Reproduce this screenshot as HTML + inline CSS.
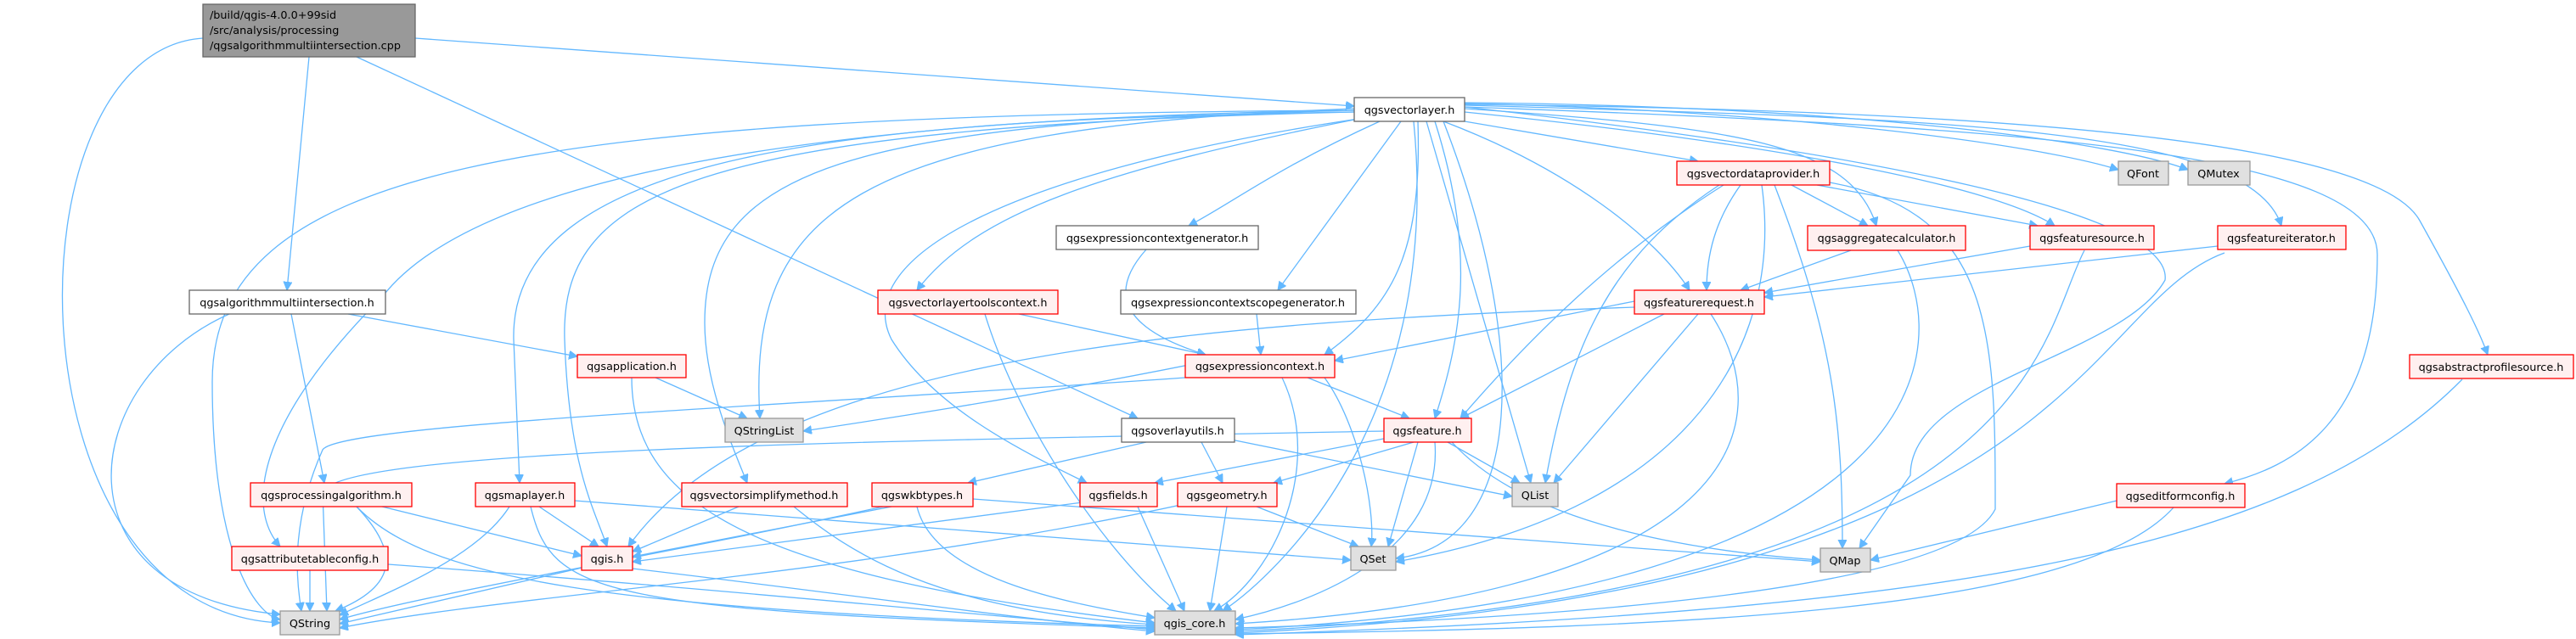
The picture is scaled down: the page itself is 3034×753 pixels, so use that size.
<!DOCTYPE html>
<html><head><meta charset="utf-8"><style>
html,body{margin:0;padding:0;background:#fff;}
svg{display:block;}
text{font-family:"DejaVu Sans","Liberation Sans",sans-serif;font-size:12.8px;fill:#000;}
.e{fill:none;stroke:#63b8ff;stroke-width:1.3;marker-end:url(#a);}
.r{fill:#fff0f0;stroke:#ff0000;stroke-width:1.3;}
.g{fill:#e0e0e0;stroke:#999;stroke-width:1.3;}
.w{fill:#fff;stroke:#666;stroke-width:1.3;}
</style></head><body>
<svg width="3034" height="753" viewBox="0 0 3034 753" xmlns="http://www.w3.org/2000/svg">
<defs><marker id="a" markerUnits="userSpaceOnUse" markerWidth="12" markerHeight="12" refX="10" refY="5" orient="auto"><path d="M0,0 L10,5 L0,10 z" fill="#63b8ff" stroke="#63b8ff"/></marker></defs>
<g>
<path class="e" d="M239,45 C5,60 5,720 330,734"/>
<path class="e" d="M364,67 L338,342"/>
<path class="e" d="M420,67 L1340,493"/>
<path class="e" d="M489,45 L1595,125"/>
<path class="e" d="M410,370 L680,420"/>
<path class="e" d="M343,370 L382,569"/>
<path class="e" d="M270,370 C90,450 60,700 330,724"/>
<path class="e" d="M772,445 L880,493"/>
<path class="e" d="M744,445 C744,600 900,680 1360,734"/>
<path class="e" d="M450,597 L685,655"/>
<path class="e" d="M420,597 C470,650 470,690 395,720"/>
<path class="e" d="M420,597 C500,680 700,720 1360,738"/>
<path class="e" d="M635,597 L705,644"/>
<path class="e" d="M600,597 C560,660 450,700 400,725"/>
<path class="e" d="M625,597 C650,700 700,720 1360,740"/>
<path class="e" d="M677,590 L1591,660"/>
<path class="e" d="M870,597 L745,650"/>
<path class="e" d="M935,597 C1000,650 1100,720 1360,736"/>
<path class="e" d="M365,672 L365,720"/>
<path class="e" d="M457,665 C800,690 1100,720 1360,742"/>
<path class="e" d="M690,668 L400,735"/>
<path class="e" d="M745,670 C1000,700 1200,730 1360,744"/>
<path class="e" d="M1595,130 C600,135 250,200 250,450 C250,650 300,725 330,730"/>
<path class="e" d="M1665,143 C1700,500 1500,680 1440,720"/>
<path class="e" d="M1595,132 C800,150 660,230 665,400 C670,550 700,600 715,644"/>
<path class="e" d="M1595,128 C1000,150 880,250 895,493"/>
<path class="e" d="M1700,143 C1800,400 1800,640 1644,658"/>
<path class="e" d="M1680,143 L1803,569"/>
<path class="e" d="M1725,126 C2200,180 2560,250 2550,330 C2500,420 2250,450 2250,560 L2190,646"/>
<path class="e" d="M1725,122 C2100,130 2400,170 2495,200"/>
<path class="e" d="M1725,121 C2200,125 2500,170 2577,200"/>
<path class="e" d="M1595,132 C1000,140 600,180 605,400 L612,569"/>
<path class="e" d="M1595,130 C900,140 550,220 450,350 C300,500 290,600 330,644"/>
<path class="e" d="M1595,130 C1000,145 830,200 830,380 C830,450 860,520 880,569"/>
<path class="e" d="M1600,140 C1300,200 1150,250 1080,342"/>
<path class="e" d="M1625,143 C1500,200 1450,240 1400,266"/>
<path class="e" d="M1650,143 L1505,342"/>
<path class="e" d="M1670,143 C1675,300 1640,360 1560,418"/>
<path class="e" d="M1690,143 C1740,300 1720,400 1690,493"/>
<path class="e" d="M1600,140 C1200,200 1000,300 1050,400 C1100,480 1200,530 1280,569"/>
<path class="e" d="M1725,143 L2000,190"/>
<path class="e" d="M1725,128 C2050,150 2180,170 2210,266"/>
<path class="e" d="M1725,132 C2100,170 2350,220 2420,266"/>
<path class="e" d="M1725,124 C2300,140 2650,150 2687,266"/>
<path class="e" d="M1700,143 C1850,200 1950,280 1990,342"/>
<path class="e" d="M1725,126 C2400,150 2800,180 2800,300 C2800,500 2700,550 2620,570"/>
<path class="e" d="M1725,123 C2400,130 2800,170 2850,260 C2900,350 2920,390 2930,418"/>
<path class="e" d="M1350,294 C1300,350 1330,390 1420,418"/>
<path class="e" d="M1480,370 L1485,418"/>
<path class="e" d="M1200,370 L1420,418"/>
<path class="e" d="M1160,370 C1200,500 1300,650 1385,720"/>
<path class="e" d="M1400,430 C1200,470 1000,500 946,508"/>
<path class="e" d="M1396,445 C900,480 400,500 380,530 C340,620 350,690 355,720"/>
<path class="e" d="M1560,445 C1600,500 1620,600 1615,644"/>
<path class="e" d="M1510,445 C1560,550 1500,680 1430,720"/>
<path class="e" d="M1540,445 L1660,493"/>
<path class="e" d="M1630,508 C1000,520 400,530 380,580 L385,720"/>
<path class="e" d="M1705,521 L1790,569"/>
<path class="e" d="M1710,521 C1800,620 2000,650 2144,660"/>
<path class="e" d="M1670,521 L1635,644"/>
<path class="e" d="M1690,521 C1700,650 1550,710 1455,730"/>
<path class="e" d="M1640,515 L1360,569"/>
<path class="e" d="M1665,521 L1500,569"/>
<path class="e" d="M1350,521 L1140,569"/>
<path class="e" d="M1415,521 L1440,569"/>
<path class="e" d="M1450,518 L1781,585"/>
<path class="e" d="M1050,597 L745,656"/>
<path class="e" d="M1040,597 C800,650 500,700 400,730"/>
<path class="e" d="M1080,597 C1100,680 1250,710 1360,728"/>
<path class="e" d="M1146,588 L2144,662"/>
<path class="e" d="M1290,590 L745,662"/>
<path class="e" d="M1340,597 L1395,720"/>
<path class="e" d="M1480,597 L1600,644"/>
<path class="e" d="M1400,593 C1000,680 600,700 400,740"/>
<path class="e" d="M1445,597 L1425,720"/>
<path class="e" d="M2030,218 C1900,300 1800,400 1720,493"/>
<path class="e" d="M2050,218 C2020,260 2010,300 2010,342"/>
<path class="e" d="M2110,218 L2200,266"/>
<path class="e" d="M2140,218 L2400,266"/>
<path class="e" d="M2025,218 C1900,300 1850,400 1820,569"/>
<path class="e" d="M2075,218 C2100,400 2000,600 1644,662"/>
<path class="e" d="M2090,218 C2160,400 2170,500 2170,646"/>
<path class="e" d="M2155,215 C2350,250 2350,400 2350,600 C2300,700 1800,730 1455,740"/>
<path class="e" d="M2180,295 L2050,342"/>
<path class="e" d="M2235,295 C2300,400 2300,700 1455,742"/>
<path class="e" d="M2391,290 L2078,345"/>
<path class="e" d="M2455,295 C2400,400 2400,700 1455,744"/>
<path class="e" d="M2612,290 L2078,350"/>
<path class="e" d="M2620,298 C2450,360 2450,700 1455,746"/>
<path class="e" d="M1925,355 L1572,425"/>
<path class="e" d="M1960,370 L1720,493"/>
<path class="e" d="M2000,370 L1830,569"/>
<path class="e" d="M1925,362 C1400,380 900,420 740,644"/>
<path class="e" d="M2015,370 C2100,500 2050,700 1455,735"/>
<path class="e" d="M2900,447 C2700,650 2300,720 1455,748"/>
<path class="e" d="M2493,590 L2203,660"/>
<path class="e" d="M2560,598 C2450,720 2000,740 1455,747"/>
</g>
<g text-anchor="middle">
<rect x="239" y="5" width="250" height="62" fill="#999" stroke="#666" stroke-width="1.3"/>
<text x="247" y="22" text-anchor="start">/build/qgis-4.0.0+99sid</text>
<text x="247" y="40" text-anchor="start">/src/analysis/processing</text>
<text x="247" y="58" text-anchor="start">/qgsalgorithmmultiintersection.cpp</text>

<rect class="w" x="223" y="342" width="231" height="28"/><text x="338" y="361">qgsalgorithmmultiintersection.h</text>
<rect class="w" x="1595" y="115" width="130" height="28"/><text x="1660" y="134">qgsvectorlayer.h</text>
<rect class="r" x="680" y="418" width="128" height="27"/><text x="744" y="436">qgsapplication.h</text>
<rect class="g" x="854" y="493" width="92" height="28"/><text x="900" y="512">QStringList</text>
<rect class="r" x="295" y="569" width="190" height="28"/><text x="390" y="588">qgsprocessingalgorithm.h</text>
<rect class="r" x="560" y="569" width="117" height="28"/><text x="618" y="588">qgsmaplayer.h</text>
<rect class="r" x="803" y="569" width="195" height="28"/><text x="900" y="588">qgsvectorsimplifymethod.h</text>
<rect class="r" x="273" y="644" width="184" height="28"/><text x="365" y="663">qgsattributetableconfig.h</text>
<rect class="r" x="685" y="644" width="60" height="28"/><text x="715" y="663">qgis.h</text>
<rect class="g" x="330" y="720" width="70" height="28"/><text x="365" y="739">QString</text>
<rect class="w" x="1244" y="266" width="238" height="28"/><text x="1363" y="285">qgsexpressioncontextgenerator.h</text>
<rect class="r" x="1034" y="342" width="212" height="28"/><text x="1140" y="361">qgsvectorlayertoolscontext.h</text>
<rect class="w" x="1320" y="342" width="277" height="28"/><text x="1458" y="361">qgsexpressioncontextscopegenerator.h</text>
<rect class="r" x="1925" y="342" width="153" height="28"/><text x="2001" y="361">qgsfeaturerequest.h</text>
<rect class="r" x="1975" y="190" width="180" height="28"/><text x="2065" y="209">qgsvectordataprovider.h</text>
<rect class="r" x="1396" y="418" width="176" height="27"/><text x="1484" y="436">qgsexpressioncontext.h</text>
<rect class="w" x="1321" y="493" width="133" height="28"/><text x="1387" y="512">qgsoverlayutils.h</text>
<rect class="r" x="1630" y="493" width="103" height="28"/><text x="1681" y="512">qgsfeature.h</text>
<rect class="r" x="1027" y="569" width="119" height="28"/><text x="1086" y="588">qgswkbtypes.h</text>
<rect class="r" x="1272" y="569" width="91" height="28"/><text x="1317" y="588">qgsfields.h</text>
<rect class="r" x="1387" y="569" width="117" height="28"/><text x="1445" y="588">qgsgeometry.h</text>
<rect class="g" x="1781" y="569" width="54" height="28"/><text x="1808" y="588">QList</text>
<rect class="g" x="1591" y="644" width="53" height="28"/><text x="1617" y="663">QSet</text>
<rect class="g" x="1360" y="720" width="95" height="28"/><text x="1407" y="739">qgis_core.h</text>
<rect class="g" x="2495" y="190" width="59" height="28"/><text x="2524" y="209">QFont</text>
<rect class="g" x="2577" y="190" width="73" height="28"/><text x="2613" y="209">QMutex</text>
<rect class="r" x="2129" y="266" width="186" height="29"/><text x="2222" y="285">qgsaggregatecalculator.h</text>
<rect class="r" x="2391" y="266" width="146" height="28"/><text x="2464" y="285">qgsfeaturesource.h</text>
<rect class="r" x="2612" y="266" width="151" height="28"/><text x="2687" y="285">qgsfeatureiterator.h</text>
<rect class="r" x="2838" y="418" width="193" height="28"/><text x="2934" y="437">qgsabstractprofilesource.h</text>
<rect class="r" x="2493" y="570" width="151" height="28"/><text x="2568" y="589">qgseditformconfig.h</text>
<rect class="g" x="2144" y="646" width="59" height="28"/><text x="2173" y="665">QMap</text>
</g>
</svg>
</body></html>
